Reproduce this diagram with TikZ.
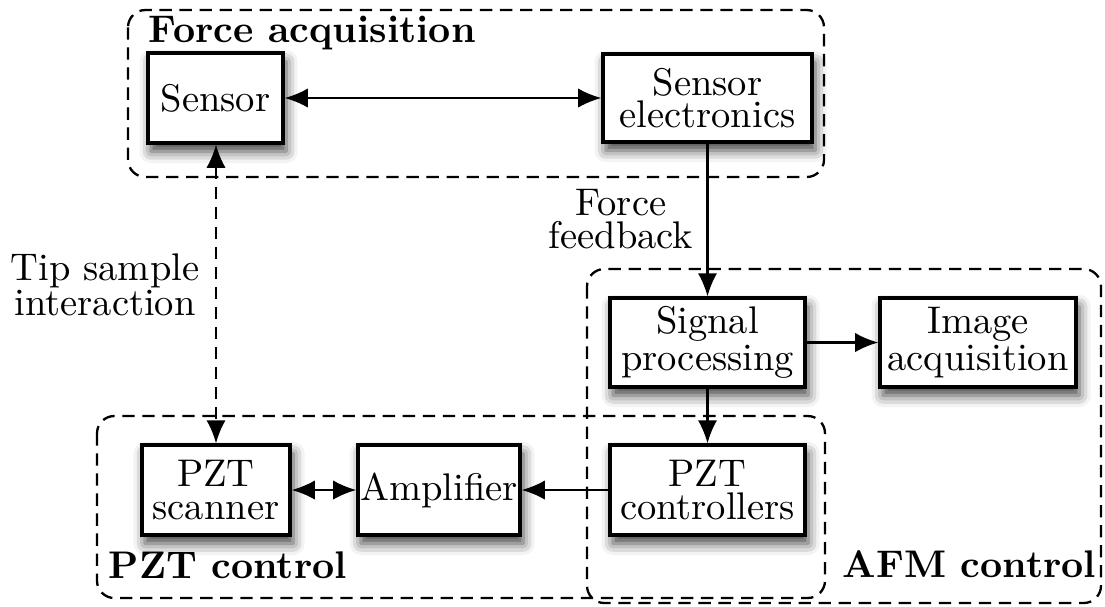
\documentclass[tikz,border=0pt]{standalone}
\usetikzlibrary{arrows.meta,shadows.blur}
\begin{document}
\begin{tikzpicture}[x=0.00913cm,y=-0.00913cm,
  blk/.style={draw=black, line width=0.85pt, fill=white, inner sep=0pt, align=center,
    font={\fontsize{10}{8.5}\selectfont},
    blur shadow={shadow xshift=0.8pt, shadow yshift=-2.2pt, shadow blur radius=3pt, shadow opacity=75}},
  grp/.style={draw=black, line width=0.6pt, dash pattern=on 3.2pt off 2pt, rounded corners=4.5pt},
  conn/.style={line width=0.55pt, -{Latex[length=6pt,width=5pt]}},
  biconn/.style={line width=0.55pt, {Latex[length=6pt,width=5pt]}-{Latex[length=6pt,width=5pt]}},
  glabel/.style={font=\bfseries, inner sep=0pt, anchor=base west},
  tlabel/.style={inner sep=0pt, align=center}]
\useasboundingbox (0,0) rectangle (1105,606);

% groups
\draw[grp] (128,10) rectangle (824,177);
\draw[grp] (587,269) rectangle (1101,603);
\draw[grp] (97,416) rectangle (825,598);

\node[glabel] (lfa) at (148,42) {Force acquisition};
\node[glabel] (lpzt) at (108,578) {PZT control};
\node[glabel] (lafm) at (842,577) {AFM control};

% blocks
\node[blk, minimum width=35.06pt, minimum height=23.37pt] (sensor) at (215.5,98) {Sensor};
\node[blk, minimum width=54.28pt, minimum height=22.85pt] (selec) at (707.5,98) {Sensor\\electronics};
\node[blk, minimum width=50.64pt, minimum height=23.11pt] (sig) at (707.5,342.5) {Signal\\processing};
\node[blk, minimum width=50.9pt, minimum height=23.11pt] (img) at (978,342.5) {Image\\acquisition};
\node[blk, minimum width=50.64pt, minimum height=23.37pt] (pztc) at (707.5,490) {PZT\\controllers};
\node[blk, minimum width=38.44pt, minimum height=23.37pt] (pzts) at (216,490) {PZT\\scanner};
\node[blk, minimum width=42.07pt, minimum height=23.37pt] (amp) at (439,490) {Amplifier};

% text labels
\node[tlabel, font={\fontsize{10}{8.6}\selectfont}] (ff) at (621,219) {Force\\feedback};
\node[tlabel, font={\fontsize{10}{9}\selectfont}] (tsi) at (105,285) {Tip sample\\interaction};

% connectors
\draw[biconn] (sensor) -- (selec);
\draw[conn] (selec) -- (sig);
\draw[conn] (sig) -- (img);
\draw[conn] (sig) -- (pztc);
\draw[conn] (pztc) -- (amp);
\draw[biconn] (pzts) -- (amp);
\draw[biconn, dash pattern=on 3.2pt off 2pt] (sensor.south -| pzts.north) -- (pzts.north);
\end{tikzpicture}
\end{document}
